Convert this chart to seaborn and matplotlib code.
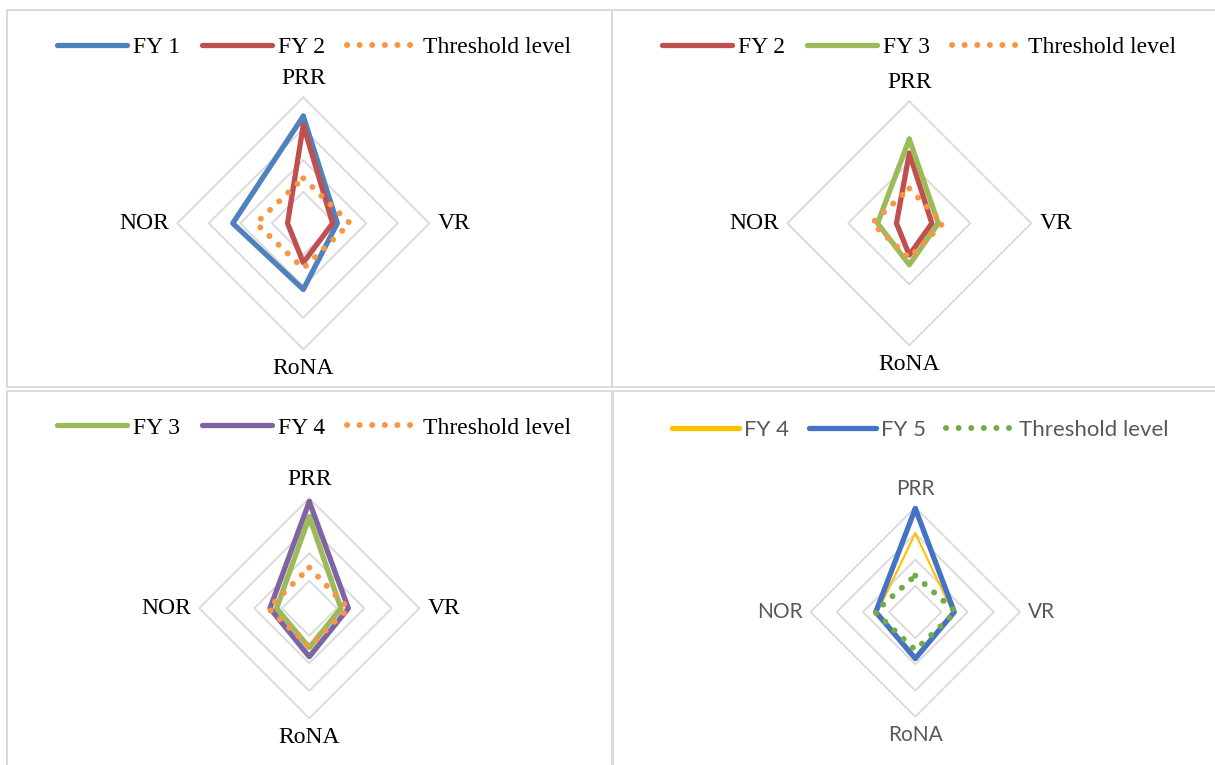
import numpy as np
import matplotlib
matplotlib.use("Agg")
import matplotlib.pyplot as plt
import seaborn as sns
from matplotlib.lines import Line2D
from matplotlib.patches import Rectangle

sns.set_style("white")

# spoke names, clockwise from the top
spokes = ['PRR', 'VR', 'RoNA', 'NOR']

# panel 1: FY 1 vs FY 2
p1_fy1 = [0.68, 0.216, 0.42, 0.448]
p1_fy2 = [0.624, 0.186, 0.25, 0.10]
p1_thr = [0.286, 0.296, 0.286, 0.30]
p1_rings = [0.2, 0.4, 0.6, 0.8]

# panel 2: FY 2 vs FY 3
p2_fy2 = [0.574, 0.185, 0.26, 0.105]
p2_fy3 = [0.69, 0.2375, 0.34, 0.26]
p2_thr = [0.285, 0.275, 0.285, 0.305]
p2_rings = [0.5, 1.0]

# panel 3: FY 3 vs FY 4
p3_fy3 = [0.666, 0.23, 0.286, 0.238]
p3_fy4 = [0.776, 0.284, 0.352, 0.286]
p3_thr = [0.296, 0.284, 0.278, 0.298]
p3_rings = [0.2, 0.4, 0.6, 0.8]

# panel 4: FY 4 vs FY 5
p4_fy4 = [0.60, 0.286, 0.336, 0.29]
p4_fy5 = [0.79, 0.298, 0.356, 0.302]
p4_thr = [0.278, 0.31, 0.29, 0.308]
p4_rings = [0.2, 0.4, 0.6, 0.8]

W, H = 1215, 765
fig = plt.figure(figsize=(W / 100, H / 100), dpi=100)
fig.patch.set_facecolor('white')

theta = np.array([0, np.pi / 2, np.pi, 3 * np.pi / 2, 2 * np.pi])

SERIF = 'Liberation Serif'
SANS = 'Lato'

def solid(color, lw=3.8):
    return dict(color=color, lw=lw, linestyle='-', solid_capstyle='round', solid_joinstyle='round')

def dotted(color):
    return dict(color=color, lw=4.3, linestyle=(0, (0.01, 2.1)), dash_capstyle='round')


def radar(cx, cy, rad, rings, series, font, tcolor, fsize):
    ax = fig.add_axes([(cx - rad) / W, (H - cy - rad) / H, 2 * rad / W, 2 * rad / H],
                      projection='polar')
    ax.set_theta_zero_location('N')
    ax.set_theta_direction(-1)
    ax.grid(False)
    ax.set_xticks([])
    ax.set_yticks([])
    ax.spines['polar'].set_visible(False)
    ax.patch.set_alpha(0)
    for r in rings:
        ax.plot(theta, [r] * 5, color='#D9D9D9', lw=1.3, zorder=1, clip_on=False)
    for vals, style in series:
        sns.lineplot(x=theta, y=list(vals) + [vals[0]], sort=False, ax=ax,
                     clip_on=False, zorder=3, **style)
    rmax = rings[-1]
    ax.set_ylim(0, rmax)
    pos = [((0, 6), 'center', 'bottom'), ((6, 0), 'left', 'center'),
           ((0, -6), 'center', 'top'), ((-6, 0), 'right', 'center')]
    for name, t, (off, ha, va) in zip(spokes, theta[:4], pos):
        ax.annotate(name, xy=(t, rmax), xytext=off, textcoords='offset points',
                    ha=ha, va=va, fontsize=fsize, family=font, color=tcolor,
                    annotation_clip=False)
    return ax


def legend(x, y, items, font, tcolor, fsize):
    handles = [Line2D([], [], **style) for _, style in items]
    labels = [lab for lab, _ in items]
    leg = fig.legend(handles, labels, loc='center', bbox_to_anchor=(x / W, 1 - y / H),
                     ncol=len(items), frameon=False, handlelength=3.0, handletextpad=0.25,
                     columnspacing=0.9, prop={'family': font, 'size': fsize})
    for t in leg.get_texts():
        t.set_color(tcolor)


c_fy1 = '#4F81BD'
c_fy2 = '#C0504D'
c_fy3 = '#9BBB59'
c_fy4 = '#8064A2'
c_thr = '#F79646'
c_y4 = '#FFC000'
c_b5 = '#4472C4'
c_g = '#70AD47'

radar(303.3, 223.3, 126, p1_rings,
      [(p1_fy1, solid(c_fy1)), (p1_fy2, solid(c_fy2)), (p1_thr, dotted(c_thr))],
      SERIF, 'black', 17)
legend(314, 47, [('FY 1', solid(c_fy1)), ('FY 2', solid(c_fy2)),
                 ('Threshold level', dotted(c_thr))], SERIF, 'black', 17)

radar(909.3, 223.3, 122, p2_rings,
      [(p2_fy2, solid(c_fy2)), (p2_fy3, solid(c_fy3)), (p2_thr, dotted(c_thr))],
      SERIF, 'black', 17)
legend(919, 47, [('FY 2', solid(c_fy2)), ('FY 3', solid(c_fy3)),
                 ('Threshold level', dotted(c_thr))], SERIF, 'black', 17)

radar(309.3, 608.3, 110, p3_rings,
      [(p3_fy3, solid(c_fy3)), (p3_fy4, solid(c_fy4)), (p3_thr, dotted(c_thr))],
      SERIF, 'black', 17)
legend(314, 428, [('FY 3', solid(c_fy3)), ('FY 4', solid(c_fy4)),
                  ('Threshold level', dotted(c_thr))], SERIF, 'black', 17)

radar(915.3, 612, 104.7, p4_rings,
      [(p4_fy4, solid(c_y4, 1.5)), (p4_fy5, solid(c_b5)), (p4_thr, dotted(c_g))],
      SANS, '#595959', 15)
legend(920, 430, [('FY 4', solid(c_y4)), ('FY 5', solid(c_b5)),
                  ('Threshold level', dotted(c_g))], SANS, '#595959', 16)

# panel frames
for x0, y0, x1, y1 in [(7, 10, 612, 387), (612, 10, 1216, 387),
                       (7, 391, 612, 766), (613, 391, 1216, 766)]:
    fig.add_artist(Rectangle((x0 / W, 1 - y1 / H), (x1 - x0) / W, (y1 - y0) / H,
                             transform=fig.transFigure, fill=False,
                             edgecolor='#D9D9D9', lw=1.3, zorder=0))

fig.savefig('out.png', dpi=100)
